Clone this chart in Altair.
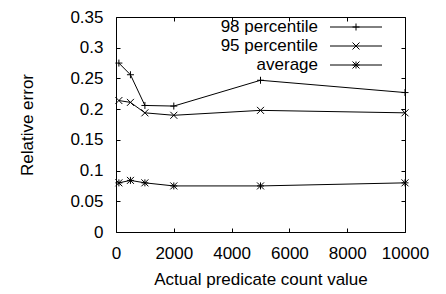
import altair as alt
import pandas as pd

counts = [100, 500, 1000, 2000, 5000, 10000]
p98 = [0.275, 0.256, 0.206, 0.205, 0.247, 0.227]
p95 = [0.214, 0.211, 0.194, 0.190, 0.198, 0.194]
avg = [0.080, 0.084, 0.080, 0.075, 0.075, 0.080]
series = ["98 percentile", "95 percentile", "average"]
x_ticks = [0, 2000, 4000, 6000, 8000, 10000]
y_ticks = [0, 0.05, 0.1, 0.15, 0.2, 0.25, 0.3, 0.35]

rows = []
for name, vals in zip(series, [p98, p95, avg]):
    for c, v in zip(counts, vals):
        rows.append({"count": c, "error": v, "series": name})
df = pd.DataFrame(rows)
leg = pd.DataFrame({"series": series})

FONT = "Liberation Sans"
FS = 17
TK = 4
paths = [
    "M-1,0L1,0M0,-1L0,1",
    "M-1,-1L1,1M-1,1L1,-1",
    "M-1,0L1,0M0,-1L0,1M-1,-1L1,1M-1,1L1,-1",
]
shape_scale = alt.Scale(domain=series, range=paths)
xs = alt.Scale(domain=[0, 10000], nice=False, zero=False)
ys = alt.Scale(domain=[0, 0.35], nice=False, zero=False)

x_bottom = alt.Axis(orient="bottom", values=x_ticks, format="d", offset=-TK, tickSize=TK,
                    domain=False, grid=False, labelPadding=13, labelFlush=False,
                    title="Actual predicate count value", titlePadding=10)
y_left = alt.Axis(orient="left", values=y_ticks, format="~g", offset=-TK, tickSize=TK,
                  domain=False, grid=False, labelPadding=13,
                  title="Relative error", titlePadding=33)
x_top = alt.Axis(orient="top", values=x_ticks, offset=-TK, tickSize=TK, domain=False,
                 grid=False, labels=False, title=None)
y_right = alt.Axis(orient="right", values=y_ticks, offset=-TK, tickSize=TK, domain=False,
                   grid=False, labels=False, title=None)

lines = alt.Chart(df).mark_line(color="black", strokeWidth=1).encode(
    x=alt.X("count:Q", scale=xs, axis=x_bottom),
    y=alt.Y("error:Q", scale=ys, axis=y_left),
    detail="series:N",
)
points = alt.Chart(df).mark_point(filled=False, color="black", size=49, strokeWidth=1, opacity=1).encode(
    x=alt.X("count:Q", scale=xs, axis=x_top),
    y=alt.Y("error:Q", scale=ys, axis=y_right),
    shape=alt.Shape("series:N", scale=shape_scale, legend=None),
)

leg_y = alt.Y("series:N", sort=series, axis=None,
              scale=alt.Scale(type="point", domain=series, range=[10, 48], padding=0))
leg_text = alt.Chart(leg).mark_text(align="right", baseline="middle", font=FONT,
                                    fontSize=FS, color="black").encode(
    x=alt.value(202), y=leg_y, text="series:N")
leg_rule = alt.Chart(leg).mark_rule(color="black", strokeWidth=1).encode(
    x=alt.value(214), x2=alt.value(266), y=leg_y)
leg_pt = alt.Chart(leg).mark_point(filled=False, color="black", size=49, strokeWidth=1, opacity=1).encode(
    x=alt.value(240), y=leg_y,
    shape=alt.Shape("series:N", scale=shape_scale, legend=None))

chart = alt.layer(lines, points, leg_rule, leg_pt, leg_text).resolve_scale(
    y="independent"
).resolve_axis(
    x="independent", y="independent"
).properties(
    width=289, height=215,
    autosize=alt.AutoSizeParams(type="none"),
    padding={"left": 108, "top": 9, "right": 30, "bottom": 62},
).configure_view(
    stroke="black", strokeWidth=1
).configure_axis(
    labelFont=FONT, titleFont=FONT, labelFontSize=FS, titleFontSize=FS,
    labelColor="black", titleColor="black", tickColor="black",
    titleFontWeight="normal", tickWidth=1,
)

chart.save("out.html", embed_options={"renderer": "svg", "actions": False})
